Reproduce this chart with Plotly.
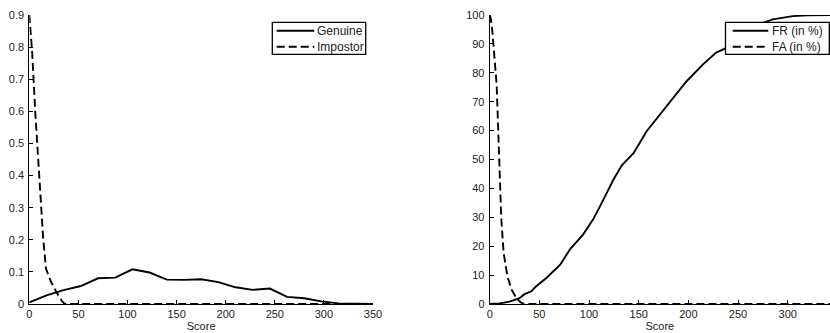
import plotly.graph_objects as go

# Left panel: score distributions
score_dist = [0, 17.5, 35, 52.5, 70, 87.5, 105, 122.5, 140, 157.5, 175, 192.5, 210,
              227.5, 245, 262.5, 280, 297.5, 315, 332.5, 350]
genuine = [0.005, 0.027, 0.043, 0.056, 0.080, 0.082, 0.108, 0.098, 0.076, 0.075, 0.077,
           0.068, 0.052, 0.044, 0.048, 0.022, 0.018, 0.008, 0.002, 0.0005, 0.0]
imp_x = [0, 1, 3, 6, 10, 14, 17, 22, 28, 33, 36, 40, 350]
impostor = [0.90, 0.86, 0.78, 0.60, 0.40, 0.21, 0.11, 0.07, 0.035, 0.01, 0.0, 0.0, 0.0]

# Right panel: error rates
fr_x = [0, 10, 20, 25, 30, 35, 42, 46, 57, 71, 81, 94, 104, 111, 118, 124.5, 133, 145,
        158, 171.5, 185, 198, 215, 228, 239, 249, 265, 285, 305, 320, 343]
fr = [0, 0.2, 0.8, 1.3, 2.0, 3.4, 4.4, 5.9, 9.0, 13.6, 19.0, 24.0, 29.2, 33.8, 38.5, 43.0,
      48.0, 52.3, 59.8, 65.6, 71.4, 77.0, 83.0, 87.0, 88.7, 92.7, 96.0, 98.5, 99.6, 99.9, 100]
fa_x = [0, 1, 2.5, 4, 5.5, 7, 8.7, 10.4, 11.6, 14, 17.8, 22, 27, 31, 34, 40, 343]
fa = [100, 99, 95, 88, 83, 76, 59, 42, 30, 17.7, 9.6, 5.0, 2.0, 0.6, 0.1, 0.0, 0.0]

x_ticks_left = [0, 50, 100, 150, 200, 250, 300, 350]
y_ticks_left = [0, 0.1, 0.2, 0.3, 0.4, 0.5, 0.6, 0.7, 0.8, 0.9]
x_ticks_right = [0, 50, 100, 150, 200, 250, 300]
y_ticks_right = [0, 10, 20, 30, 40, 50, 60, 70, 80, 90, 100]

left_names = ["Genuine", "Impostor"]
right_names = ["FR (in %)", "FA (in %)"]

W, H = 830, 333
FAM = "Liberation Sans, Arial, Helvetica, sans-serif"
font = dict(family=FAM, size=11, color="#222")
lfont = dict(family=FAM, size=12, color="#222")
DASH = "8px,4px"
LW = 1.9
line_solid = dict(color="black", width=LW)
line_dash = dict(color="black", width=LW, dash=DASH)

fig = go.Figure()
fig.add_trace(go.Scatter(x=score_dist, y=genuine, mode="lines", name=left_names[0],
                         line=line_solid, xaxis="x", yaxis="y"))
fig.add_trace(go.Scatter(x=imp_x, y=impostor, mode="lines", name=left_names[1],
                         line=line_dash, xaxis="x", yaxis="y"))
fig.add_trace(go.Scatter(x=fr_x, y=fr, mode="lines", name=right_names[0],
                         line=line_solid, xaxis="x2", yaxis="y2"))
fig.add_trace(go.Scatter(x=fa_x, y=fa, mode="lines", name=right_names[1],
                         line=line_dash, xaxis="x2", yaxis="y2"))

axis_common = dict(showline=True, linecolor="black", linewidth=1, ticks="inside",
                   ticklen=4, tickcolor="black", showgrid=False, zeroline=False,
                   mirror=False, tickfont=font, automargin=False)

ydom = [1 - 304 / H, 1 - 15 / H]
xl0, xl1 = 29.3 / W, 373 / W
xr0 = 489.7 / W
right_max = (W - 489.7) / 0.9933


def px(x):
    return x / W


def py(y):
    return 1 - y / H


# Legend boxes drawn in paper coordinates (box, sample lines, labels)
shapes, annotations = [], []


def add_legend(box, line_x0, line_x1, text_x, rows, names):
    x0, y0, x1, y1 = box
    shapes.append(dict(type="rect", xref="paper", yref="paper",
                       x0=px(x0), x1=px(x1), y0=py(y1), y1=py(y0),
                       line=dict(color="black", width=1.3), fillcolor="white", layer="above"))
    for i, (row_y, name) in enumerate(zip(rows, names)):
        shapes.append(dict(type="line", xref="paper", yref="paper",
                           x0=px(line_x0), x1=px(line_x1), y0=py(row_y), y1=py(row_y),
                           line=dict(color="black", width=LW, dash=("solid" if i == 0 else DASH)),
                           layer="above"))
        annotations.append(dict(text=name, xref="paper", yref="paper", x=px(text_x),
                                y=py(row_y), xanchor="left", yanchor="middle",
                                showarrow=False, font=lfont))


add_legend((272.3, 22.3, 365.7, 54.3), 276.7, 314.3, 314.5, [30.7, 46.7], left_names)
add_legend((725.5, 22.3, 829.3, 54.3), 732.7, 768.3, 769.5, [30.7, 46.7], right_names)

fig.update_layout(
    width=W, height=H, margin=dict(l=0, r=0, t=0, b=0, autoexpand=False),
    paper_bgcolor="white", plot_bgcolor="white", font=font, showlegend=False,
    xaxis=dict(domain=[xl0, xl1], range=[0, 350], tickvals=x_ticks_left,
               title=dict(text="Score", font=font, standoff=3), anchor="y", **axis_common),
    yaxis=dict(domain=ydom, range=[0, 0.9], tickvals=y_ticks_left, anchor="x",
               ticklabelstandoff=2, **axis_common),
    xaxis2=dict(domain=[xr0, 1.0], range=[0, right_max], tickvals=x_ticks_right,
                title=dict(text="Score", font=font, standoff=3), anchor="y2", **axis_common),
    yaxis2=dict(domain=ydom, range=[0, 100], tickvals=y_ticks_right, anchor="x2",
                ticklabelstandoff=2, **axis_common),
    shapes=shapes, annotations=annotations,
)

fig.write_html("out.html", config={"displayModeBar": False},
               post_script="document.body.style.margin='0';")
